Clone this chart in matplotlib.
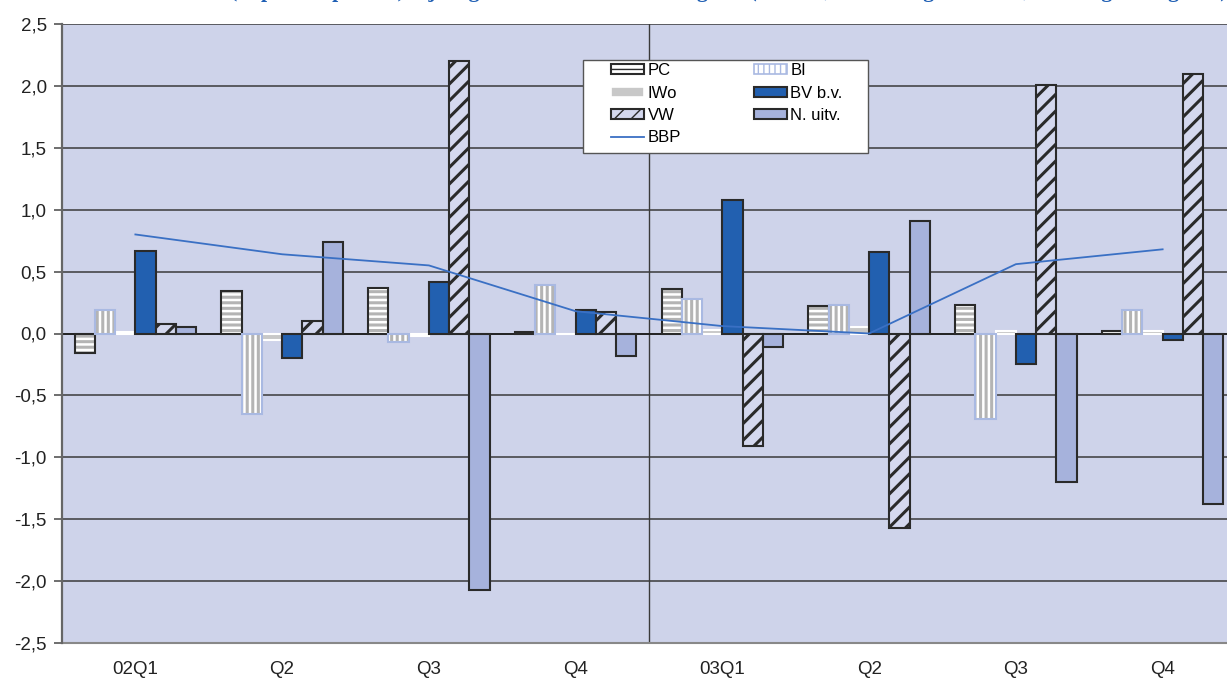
import numpy as np
import matplotlib
matplotlib.use("Agg")
import matplotlib.pyplot as plt
from matplotlib.patches import Patch, Rectangle
from matplotlib.lines import Line2D

###################################################
# Data
###################################################
quarters = ["02Q1", "Q2", "Q3", "Q4", "03Q1", "Q2", "Q3", "Q4"]

pc = [-0.16, 0.34, 0.37, 0.01, 0.36, 0.22, 0.23, 0.02]
bi = [0.19, -0.65, -0.07, 0.39, 0.28, 0.23, -0.69, 0.19]
iwo = [0.01, -0.05, -0.02, 0.00, 0.03, 0.05, 0.02, 0.02]
bv = [0.67, -0.20, 0.42, 0.19, 1.08, 0.66, -0.25, -0.05]
vw = [0.08, 0.10, 2.20, 0.17, -0.91, -1.57, 2.01, 2.10]
n_uitv = [0.05, 0.74, -2.07, -0.18, -0.11, 0.91, -1.20, -1.38]
bbp = [0.80, 0.64, 0.55, 0.18, 0.06, 0.00, 0.56, 0.68]

y_ticks = np.arange(-2.5, 2.51, 0.5)

title = ("(in procentpunten) bijdragen aan de economische groei "
         "(volume, t.o.v. vorig kwartaal, seizoengecorrigeerd)")

###################################################
# Style
###################################################
bg = "#CED3EA"
dark_blue = "#2260B0"
light_blue = "#A6B2DC"
bi_edge = "#A9B9E2"
line_blue = "#3A70C4"
W, H = 1227, 679

plt.rcParams["font.family"] = ["Liberation Sans", "DejaVu Sans"]

fig = plt.figure(figsize=(W / 100, H / 100), dpi=100)
ax_l, ax_r, ax_t, ax_b = 62, 1236, 24, 643
ax = fig.add_axes([ax_l / W, 1 - ax_b / H, (ax_r - ax_l) / W, (ax_b - ax_t) / H])
ax.set_facecolor(bg)

x = np.arange(len(quarters))
w = 0.138
off = [(k - 2.5) * w for k in range(6)]


def striped(xpos, vals, hatch, stripe_col, edge_col, lw=1.5):
    with plt.rc_context({"hatch.linewidth": 2.2}):
        ax.bar(xpos, vals, w, color="white", hatch=hatch, edgecolor=stripe_col,
               linewidth=0, zorder=3)
    ax.bar(xpos, vals, w, color="none", edgecolor=edge_col, linewidth=lw, zorder=4)


# PC: horizontal grey stripes, black edge
striped(x + off[0], pc, "---", "#B4B4B4", "#2A2A2A")
# BI: vertical grey stripes, light blue edge
striped(x + off[1], bi, "|||", "#B4B4B4", bi_edge)
# IWo: light grey, white edge
ax.bar(x + off[2], iwo, w, color="#C8C8C8", edgecolor="white", linewidth=1.5, zorder=3)
# BV b.v.
ax.bar(x + off[3], bv, w, color=dark_blue, edgecolor="#2A2A2A", linewidth=1.5, zorder=3)
# VW: diagonal black hatch on lavender
with plt.rc_context({"hatch.linewidth": 2.2}):
    ax.bar(x + off[4], vw, w, color="#D4D8EE", hatch="//", edgecolor="#2A2A2A",
           linewidth=0, zorder=3)
ax.bar(x + off[4], vw, w, color="none", edgecolor="#2A2A2A", linewidth=1.5, zorder=4)
# N. uitv.
ax.bar(x + off[5], n_uitv, w, color=light_blue, edgecolor="#2A2A2A", linewidth=1.5, zorder=3)

# BBP line
ax.plot(x, bbp, color=line_blue, linewidth=1.3, zorder=5)

# grid, zero line, year separator
for yv in y_ticks:
    ax.axhline(yv, color="#3A3A3A", linewidth=1.1, zorder=1)
ax.axhline(0, color="#1A1A1A", linewidth=1.2, zorder=2)
ax.axvline(3.5, color="#3A3A3A", linewidth=1.0, zorder=1)

ax.set_xlim(-0.5, 7.5)
ax.set_ylim(-2.5, 2.5)
ax.set_yticks(y_ticks)
ax.set_yticklabels([f"{v:.1f}".replace(".", ",") for v in y_ticks], fontsize=13.5, color="#222222")
ax.set_xticks(x)
ax.set_xticklabels(quarters, fontsize=13.5, color="#222222")
ax.tick_params(axis="x", length=0, pad=13)
ax.tick_params(axis="y", length=6, width=1.2, color="#555555", pad=5)
for s in ["top", "right"]:
    ax.spines[s].set_visible(False)
ax.spines["left"].set_color("#666666")
ax.spines["left"].set_linewidth(1.6)
ax.spines["bottom"].set_color("#888888")
ax.spines["bottom"].set_linewidth(1.5)
ax.spines["left"].set_zorder(6)


# legend box (Excel style, wide left padding)
def fx(px):
    return px / W


def fy(py):
    return 1 - py / H


fig.patches.append(Rectangle((fx(583), fy(153)), fx(868) - fx(583), fy(60) - fy(153),
                             transform=fig.transFigure, facecolor="white",
                             edgecolor="#555555", linewidth=1.0, zorder=20))

with plt.rc_context({"hatch.linewidth": 2.0}):
    h_pc = Patch(facecolor="white", edgecolor="#2A2A2A", hatch="---", linewidth=1.5)
    h_bi = Patch(facecolor="white", edgecolor=bi_edge, hatch="|||", linewidth=1.2)
    h_vw = Patch(facecolor="#D4D8EE", edgecolor="#2A2A2A", hatch="//", linewidth=1.5)
h_iwo = Patch(facecolor="#C8C8C8", edgecolor="white", linewidth=1.2)
h_bv = Patch(facecolor=dark_blue, edgecolor="#2A2A2A", linewidth=1.5)
h_n = Patch(facecolor=light_blue, edgecolor="#2A2A2A", linewidth=1.5)
h_bbp = Line2D([], [], color=line_blue, linewidth=1.3)
handles = [h_pc, h_iwo, h_vw, h_bbp, h_bi, h_bv, h_n]
labels = ["PC", "IWo", "VW", "BBP", "BI", "BV b.v.", "N. uitv."]
leg = fig.legend(handles, labels, ncol=2, loc="upper left",
                 bbox_to_anchor=(fx(611), fy(63)),
                 fontsize=12, frameon=False,
                 handlelength=2.0, handleheight=0.55, handletextpad=0.2,
                 columnspacing=4.35, labelspacing=0.45, borderpad=0.0,
                 borderaxespad=0)
leg.set_zorder(21)

# title, only its descenders are visible at the top edge
t = fig.text(fx(230), 1 + 2.5 / H, title, ha="left", va="baseline", fontsize=15,
             fontweight="bold", family=["Liberation Serif", "DejaVu Serif"],
             color="#1F5FB4")
r = fig.canvas.get_renderer()
tw = t.get_window_extent(r).width
t.set_fontsize(15 * (1222 - 230) / tw)

fig.savefig("out.png", dpi=100)
